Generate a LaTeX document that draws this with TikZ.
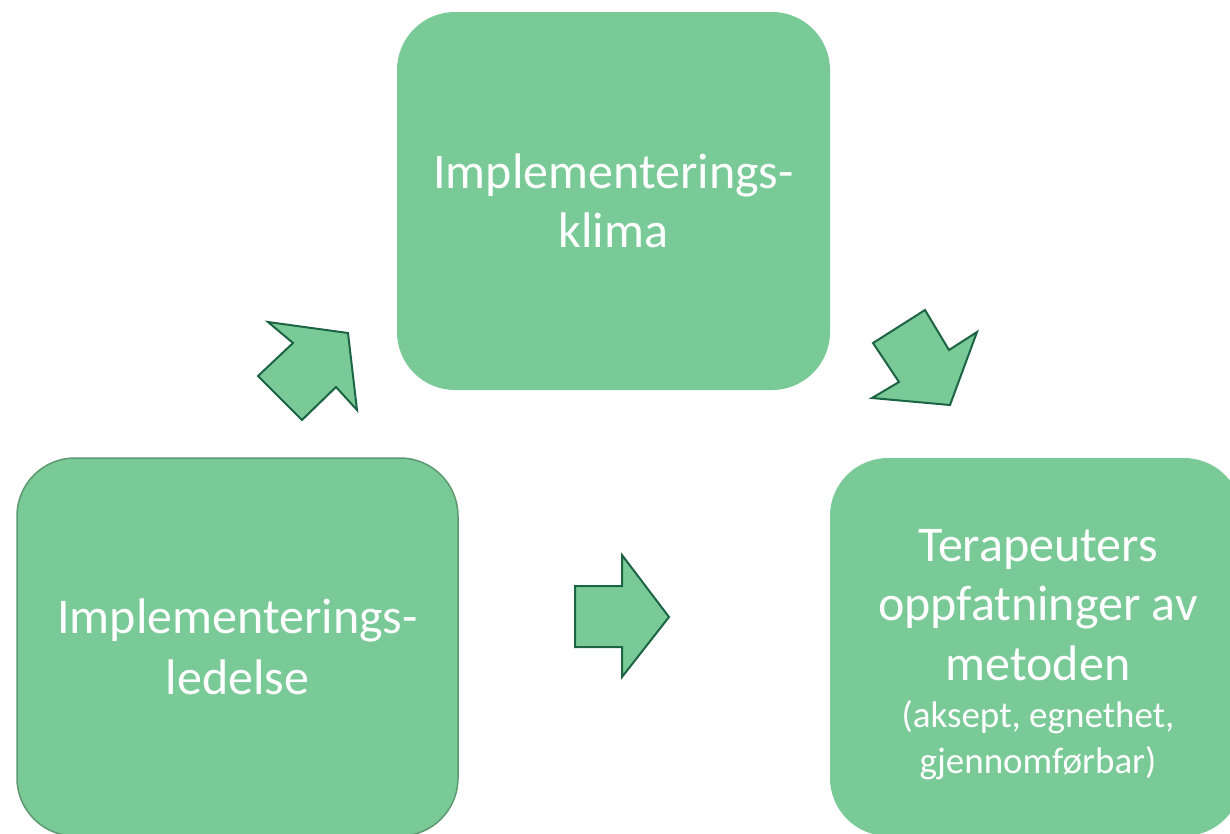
\documentclass[tikz,border=0pt]{standalone}
\usepackage{fontspec}
\setmainfont{Carlito}
\definecolor{boxfill}{RGB}{122,202,152}
\definecolor{arrowline}{RGB}{28,100,68}
\definecolor{boxline}{RGB}{92,152,112}
\tikzset{
  greenbox/.style={rectangle, rounded corners=58pt, fill=boxfill, text=white, align=center, inner sep=0pt},
  boxtext/.style={text=white, align=center, inner sep=0pt},
  blockarrow/.style={fill=boxfill, draw=arrowline, line width=2pt, line join=miter},
  bigtext/.style={font=\fontsize{50}{59}\selectfont}
}
\begin{document}
\begin{tikzpicture}[x=1pt,y=-1pt]
\useasboundingbox (0,0) rectangle (1230,833);
\clip (0,0) rectangle (1230,833);
\node[greenbox, minimum width=433pt, minimum height=378pt, bigtext] (klima) at (613.5,201) {Implementerings-\\klima};
\node[greenbox, draw=boxline, line width=1.5pt, minimum width=441pt, minimum height=378pt, bigtext] (ledelse) at (237.5,647) {Implementerings-\\[2pt]ledelse};
\node[greenbox, minimum width=412pt, minimum height=378pt] (terapeut) at (1036,647) {};
\node[boxtext, bigtext] (terapeuttext) at (1038,655) {Terapeuters\\oppfatninger av\\[1pt]metoden\\[-12pt]{\fontsize{37}{46}\selectfont (aksept, egnethet,}\\[-13pt]{\fontsize{37}{46}\selectfont gjennomførbar)}};
% block arrows
\draw[blockarrow] (268,322) -- (348,333) -- (357,410) -- (336,387) -- (302,420) -- (258,376) -- (293,343) -- cycle;
\draw[blockarrow] (873,343) -- (925,310) -- (949,350) -- (977,332) -- (950,405) -- (872,398) -- (899,382) -- cycle;
\draw[blockarrow] (575,586) -- (622,586) -- (622,555) -- (669,617) -- (622,677) -- (622,647) -- (575,647) -- cycle;
\end{tikzpicture}
\end{document}
